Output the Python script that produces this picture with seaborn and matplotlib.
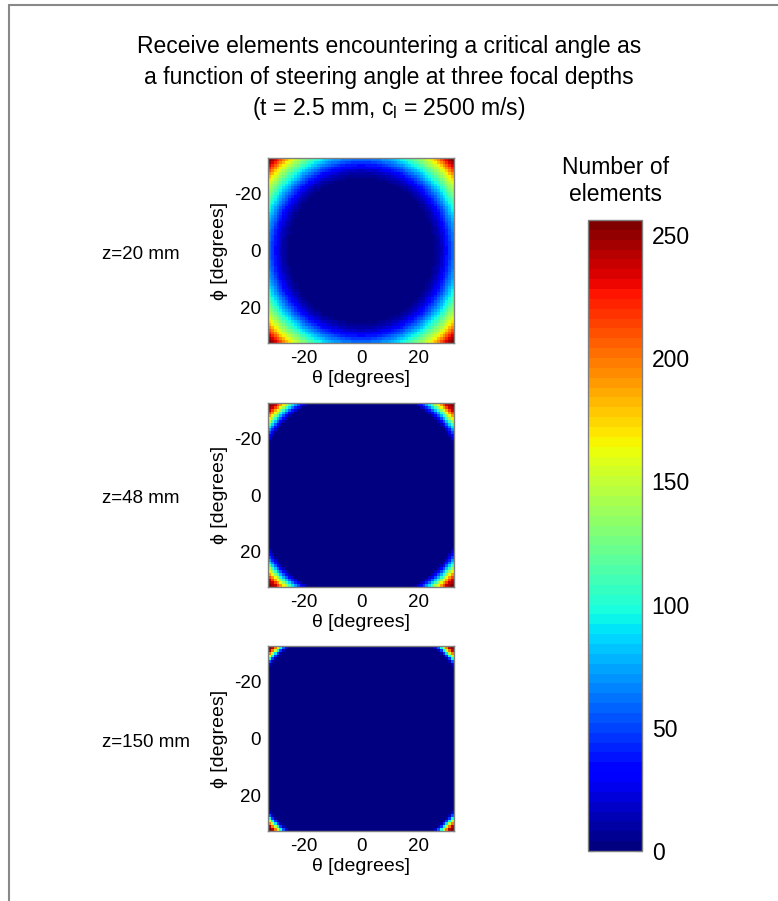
import numpy as np
import pandas as pd
import matplotlib
matplotlib.use("Agg")
import matplotlib.pyplot as plt
from matplotlib.lines import Line2D
import seaborn as sns

# steering angles (1 degree grid), both theta and phi
angles = list(range(-32, 33))
tick_vals = [-20, 0, 20]

depth_labels = ["z=20 mm", "z=48 mm", "z=150 mm"]

# number of elements vs. radial steering angle sqrt(theta^2 + phi^2)
radius_20 = [0, 25, 28, 31, 34, 37, 40, 42, 44, 45.3]
count_20 = [0, 0, 15, 45, 80, 118, 158, 198, 238, 256]
radius_48 = [0, 37.0, 38.5, 40.0, 41.2, 42.5, 43.9, 45.3]
count_48 = [0, 0, 40, 90, 140, 190, 238, 256]
radius_150 = [0, 40.8, 41.5, 42.3, 43.0, 43.8, 44.5, 45.3]
count_150 = [0, 0, 30, 80, 140, 195, 240, 256]

cbar_ticks = [0, 50, 100, 150, 200, 250]
cmax = 256

sns.set_style("white")
plt.rcParams["font.family"] = ["Liberation Sans", "DejaVu Sans"]
plt.rcParams["text.color"] = "black"
plt.rcParams["axes.labelcolor"] = "black"
plt.rcParams["xtick.color"] = "black"
plt.rcParams["ytick.color"] = "black"
plt.rcParams["mathtext.fontset"] = "custom"
plt.rcParams["mathtext.rm"] = "Liberation Sans"
plt.rcParams["mathtext.default"] = "regular"

fig = plt.figure(figsize=(7.78, 9.01), dpi=100)
cmap = plt.get_cmap("jet", 64)

th, ph = np.meshgrid(angles, angles)
rad = np.sqrt(th ** 2 + ph ** 2)

profiles = [(radius_20, count_20), (radius_48, count_48), (radius_150, count_150)]
# axes boxes [left, bottom, width, height] in figure fraction
boxes = [[0.3445, 0.6193, 0.2391, 0.2053],
         [0.3445, 0.3485, 0.2391, 0.2042],
         [0.3445, 0.0777, 0.2391, 0.2053]]

tick_pos = [angles.index(v) + 0.5 for v in tick_vals]
axes = []
for (rr, cc), box, lab in zip(profiles, boxes, depth_labels):
    ax = fig.add_axes(box)
    grid = np.round(np.interp(rad, rr, cc))
    df = pd.DataFrame(grid, index=angles, columns=angles)
    sns.heatmap(df, ax=ax, cmap=cmap, vmin=0, vmax=cmax, cbar=False,
                xticklabels=False, yticklabels=False)
    ax.set_xticks(tick_pos)
    ax.set_xticklabels([str(v) for v in tick_vals], fontsize=13.5)
    ax.set_yticks(tick_pos)
    ax.set_yticklabels([str(v) for v in tick_vals], fontsize=13.5, rotation=0)
    ax.tick_params(direction="in", length=3, width=0.8, color="#333333",
                   top=True, right=True, bottom=True, left=True, pad=5)
    for s in ax.spines.values():
        s.set_visible(True)
        s.set_color("#808080")
        s.set_linewidth(1.0)
    ax.set_xlabel("θ [degrees]", fontsize=14, labelpad=2)
    ax.set_ylabel("ϕ [degrees]", fontsize=14, labelpad=4)
    yc = box[1] + box[3] / 2 - 0.004
    fig.text(102 / 778, yc, lab, ha="left", va="center", fontsize=13.5)
    axes.append(ax)

# colorbar
cax = fig.add_axes([0.7558, 0.0555, 0.0694, 0.7003])
cb = fig.colorbar(axes[0].collections[0], cax=cax)
cb.set_ticks(cbar_ticks)
cb.ax.tick_params(direction="in", length=4, width=0.8, left=True, right=True,
                  labelsize=16.5, pad=7, color="#333333")
cb.outline.set_edgecolor("#808080")
cb.outline.set_linewidth(1.0)
fig.text(616 / 778, 1 - 181 / 901, "Number of\nelements", ha="center", va="center",
         fontsize=16.5, linespacing=1.2)

# title
title_lines = ["Receive elements encountering a critical angle as",
               "a function of steering angle at three focal depths",
               "(t = 2.5 mm, c$_{l}$ = 2500 m/s)"]
for i, line in enumerate(title_lines):
    fig.text(0.5, 1 - (46 + 31.5 * i) / 901, line, ha="center", va="center", fontsize=16.5)

# frame lines on left and top
fig.add_artist(Line2D([9 / 778, 9 / 778], [0, 1 - 5 / 901], color="#888888", lw=1.5))
fig.add_artist(Line2D([9 / 778, 1], [1 - 5 / 901, 1 - 5 / 901], color="#888888", lw=1.5))

fig.savefig("out.png", dpi=100)
